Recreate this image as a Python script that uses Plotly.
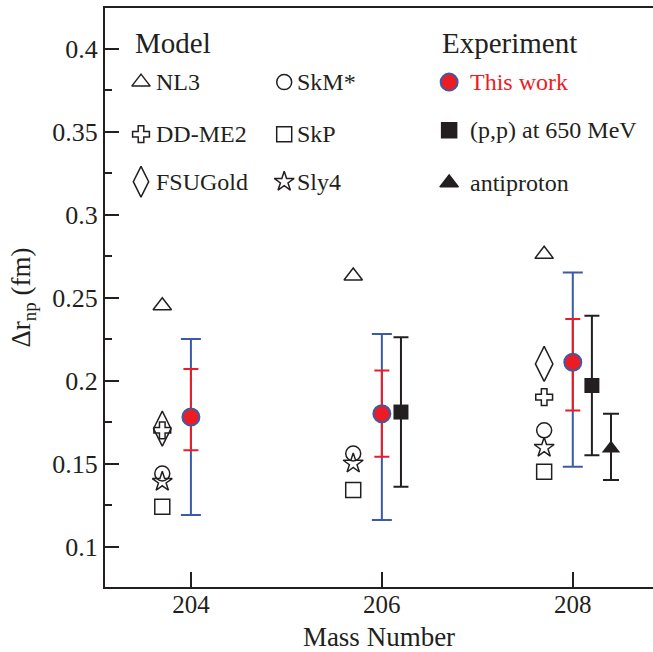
import plotly.graph_objects as go

# ---------------- data ----------------
mass = [204, 206, 208]
x_ticks = [204, 206, 208]
y_ticks = [0.1, 0.15, 0.2, 0.25, 0.3, 0.35, 0.4]
y_ticktext = ["0.1", "0.15", "0.2", "0.25", "0.3", "0.35", "0.4"]
y_minor = [0.125, 0.175, 0.225, 0.275, 0.325, 0.375]

nl3 = [0.245, 0.263, 0.276]
ddme2 = [0.170, None, 0.190]
fsugold = [0.171, None, 0.210]
skm = [0.144, 0.156, 0.170]
skp = [0.124, 0.134, 0.145]
sly4 = [0.139, 0.150, 0.1595]

this_work = [0.178, 0.180, 0.211]
stat_hi = [0.207, 0.206, 0.237]
stat_lo = [0.158, 0.154, 0.182]
tot_hi = [0.225, 0.228, 0.265]
tot_lo = [0.119, 0.116, 0.148]

pp_mass = [206, 208]
pp_val = [0.181, 0.197]
pp_hi = [0.226, 0.239]
pp_lo = [0.136, 0.155]

pbar_mass = [208]
pbar_val = [0.159]
pbar_hi = [0.180]
pbar_lo = [0.140]

# ---------------- style ----------------
FONT = "Liberation Serif, Times New Roman, serif"
INK = "#231f20"
RED = "#ed1c24"
BLUE = "#3b5ba9"
model_off = -0.3
pp_off = 0.2
pbar_off = 0.4

fig = go.Figure()

mx = [m + model_off for m in mass]
models = [
    ("NL3", nl3, "triangle-up-open", 16),
    ("DD-ME2", ddme2, "cross-open", 14),
    ("FSUGold", fsugold, "diamond-tall-open", 25),
    ("SkM*", skm, "circle-open", 15),
    ("SkP", skp, "square-open", 15),
    ("Sly4", sly4, "star-open", 15),
]
for name, vals, sym, sz in models:
    fig.add_trace(go.Scatter(
        x=mx, y=vals, mode="markers", name=name, showlegend=False,
        marker=dict(symbol=sym, size=sz, color=INK, line=dict(color=INK, width=1.5)),
    ))

# total error bars (blue)
fig.add_trace(go.Scatter(
    x=mass, y=this_work, mode="markers", showlegend=False,
    marker=dict(size=1, color="rgba(0,0,0,0)"),
    error_y=dict(type="data", symmetric=False,
                 array=[h - v for h, v in zip(tot_hi, this_work)],
                 arrayminus=[v - l for l, v in zip(tot_lo, this_work)],
                 color=BLUE, thickness=2, width=10),
))
# stat error bars (red) + markers
fig.add_trace(go.Scatter(
    x=mass, y=this_work, mode="markers", name="This work", showlegend=False,
    marker=dict(symbol="circle", size=17, color=RED, line=dict(color=BLUE, width=2)),
    error_y=dict(type="data", symmetric=False,
                 array=[h - v for h, v in zip(stat_hi, this_work)],
                 arrayminus=[v - l for l, v in zip(stat_lo, this_work)],
                 color=RED, thickness=2, width=7.5),
))
# (p,p)
fig.add_trace(go.Scatter(
    x=[m + pp_off for m in pp_mass], y=pp_val, mode="markers", showlegend=False,
    marker=dict(symbol="square", size=15, color=INK),
    error_y=dict(type="data", symmetric=False,
                 array=[h - v for h, v in zip(pp_hi, pp_val)],
                 arrayminus=[v - l for l, v in zip(pp_lo, pp_val)],
                 color=INK, thickness=2, width=7.5),
))
# antiproton
fig.add_trace(go.Scatter(
    x=[m + pbar_off for m in pbar_mass], y=pbar_val, mode="markers", showlegend=False,
    marker=dict(symbol="triangle-up", size=16, color=INK),
    error_y=dict(type="data", symmetric=False,
                 array=[h - v for h, v in zip(pbar_hi, pbar_val)],
                 arrayminus=[v - l for l, v in zip(pbar_lo, pbar_val)],
                 color=INK, thickness=2, width=8),
))

# ---------------- hand-drawn legend (paper coords via overlay axes) ----------------
leg_rows = [0.872, 0.782, 0.700]
col1_x, col1_tx = 0.0657, 0.0895
col2_x, col2_tx = 0.327, 0.347
exp_x, exp_tx = 0.628, 0.662
exp_rows = [0.872, 0.789, 0.698]

leg_glyphs = [
    (col1_x, leg_rows[0], "triangle-up-open", 16, INK, INK),
    (col1_x, leg_rows[1], "cross-open", 14, INK, INK),
    (col1_x, leg_rows[2], "diamond-tall-open", 22, INK, INK),
    (col2_x, leg_rows[0], "circle-open", 15, INK, INK),
    (col2_x, leg_rows[1], "square-open", 15, INK, INK),
    (col2_x, leg_rows[2], "star-open", 15, INK, INK),
    (exp_x, exp_rows[0], "circle", 17, RED, BLUE),
    (exp_x, exp_rows[1], "square", 15, INK, INK),
    (exp_x, exp_rows[2], "triangle-up", 16, INK, INK),
]
for gx, gy, sym, sz, fc, lc in leg_glyphs:
    fig.add_trace(go.Scatter(
        x=[gx], y=[gy], xaxis="x2", yaxis="y2", mode="markers", showlegend=False,
        hoverinfo="skip",
        marker=dict(symbol=sym, size=sz, color=fc,
                    line=dict(color=lc, width=2 if fc == RED else 1.5)),
    ))

labels = [
    (0.051, 0.940, "Model", 29, INK),
    (col1_tx, leg_rows[0], "NL3", 24, INK),
    (col1_tx, leg_rows[1], "DD-ME2", 24, INK),
    (col1_tx, leg_rows[2], "FSUGold", 24, INK),
    (col2_tx, leg_rows[0], "SkM*", 24, INK),
    (col2_tx, leg_rows[1], "SkP", 24, INK),
    (col2_tx, leg_rows[2], "Sly4", 24, INK),
    (0.611, 0.940, "Experiment", 29, INK),
    (exp_tx, exp_rows[0], "This work", 24, RED),
    (exp_tx, exp_rows[1], "(p,p) at 650 MeV", 24, INK),
    (exp_tx, exp_rows[2], "antiproton", 24, INK),
]
for lx, ly, txt, fs, col in labels:
    fig.add_annotation(x=lx, y=ly, xref="paper", yref="paper", text=txt,
                       showarrow=False, xanchor="left", yanchor="middle",
                       font=dict(family=FONT, size=fs, color=col))

fig.update_layout(
    width=653, height=652,
    margin=dict(l=105, r=0, t=8, b=65),
    paper_bgcolor="white", plot_bgcolor="white",
    font=dict(family=FONT, size=25, color=INK),
    xaxis=dict(
        range=[203.1, 208.84], tickvals=x_ticks, ticktext=[str(t) for t in x_ticks],
        ticks="inside", ticklen=15, tickwidth=2, tickcolor=INK,
        showline=True, linecolor=INK, linewidth=2, mirror=True,
        showgrid=False, zeroline=False, automargin=False,
        ticklabelstandoff=-6,
        tickfont=dict(family=FONT, size=25, color=INK),
        title=dict(text="Mass Number", font=dict(family=FONT, size=27, color=INK), standoff=13),
    ),
    yaxis=dict(
        range=[0.0756, 0.4244], tickvals=y_ticks, ticktext=y_ticktext,
        ticks="inside", ticklen=14, tickwidth=2, tickcolor=INK,
        minor=dict(tickvals=y_minor, ticks="inside", ticklen=7, tickwidth=1.5, tickcolor=INK),
        showline=True, linecolor=INK, linewidth=2, mirror=False,
        showgrid=False, zeroline=False, automargin=False,
        tickfont=dict(family=FONT, size=26, color=INK),
        title=dict(text="Δr<sub>np</sub> (fm)", font=dict(family=FONT, size=27, color=INK), standoff=14),
    ),
    xaxis2=dict(overlaying="x", range=[0, 1], visible=False, fixedrange=True),
    yaxis2=dict(overlaying="y", range=[0, 1], visible=False, fixedrange=True),
)

fig.write_html(
    "out.html",
    config={"displayModeBar": False},
    post_script="document.body.style.margin='0px';document.body.style.overflow='hidden';",
)
